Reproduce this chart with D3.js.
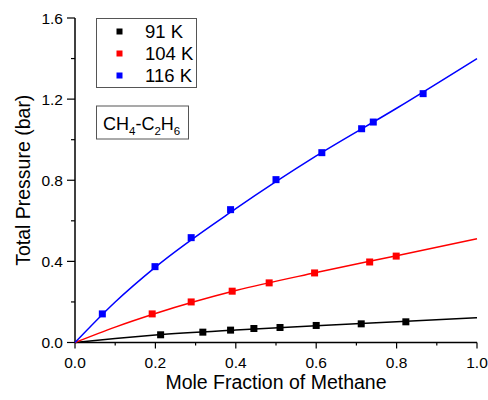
<!DOCTYPE html>
<html>
<head>
<meta charset="utf-8">
<title>Total Pressure vs Mole Fraction</title>
<script src="https://cdn.jsdelivr.net/npm/d3@7/dist/d3.min.js"></script>
<style>
    body { margin: 0; background: white; }
    svg { font-family: "Liberation Sans", Arial, sans-serif; }
</style>
</head>
<body>
<div id="chart"></div>
<script>
    // measured points
    var x91  = [0.213, 0.318, 0.387, 0.445, 0.51, 0.6, 0.712, 0.823];
    var p91  = [0.038, 0.051, 0.061, 0.069, 0.074, 0.084, 0.092, 0.102];
    var x104 = [0.192, 0.289, 0.391, 0.483, 0.596, 0.733, 0.799];
    var p104 = [0.141, 0.2, 0.253, 0.294, 0.343, 0.397, 0.426];
    var x116 = [0.068, 0.199, 0.289, 0.387, 0.5, 0.614, 0.713, 0.742, 0.866];
    var p116 = [0.141, 0.374, 0.517, 0.655, 0.803, 0.936, 1.054, 1.087, 1.227];

    // fitted curves
    var fitX   = [0, 0.1, 0.2, 0.4, 0.6, 0.8, 1.0];
    var fit91  = [0, 0.02, 0.037, 0.062, 0.083, 0.102, 0.122];
    var fit104 = [0, 0.076, 0.143, 0.256, 0.345, 0.428, 0.512];
    var fit116 = [0, 0.2, 0.372, 0.66, 0.92, 1.155, 1.40];

    var labels = ["91 K", "104 K", "116 K"];
    var colors = ["#000000", "#ff0000", "#0000ff"];
    var xTicks = [0, 0.2, 0.4, 0.6, 0.8, 1.0];
    var yTicks = [0, 0.4, 0.8, 1.2, 1.6];

    var width = 488, height = 400;
    var svg = d3.select("#chart").append("svg")
                .attr("width", width)
                .attr("height", height);

    var x = d3.scaleLinear().domain([0, 1]).range([75, 477]);
    var y = d3.scaleLinear().domain([0, 1.6]).range([342.5, 18]);

    var series = [
        {xs: x91,  ys: p91,  fit: fit91},
        {xs: x104, ys: p104, fit: fit104},
        {xs: x116, ys: p116, fit: fit116}
    ];

    // axes
    var xAxis = svg.append("g").attr("transform", "translate(0," + y(0) + ")");
    xAxis.append("line").attr("x1", x(0)).attr("x2", x(1))
         .attr("stroke", "black").attr("stroke-width", 1.5);
    d3.range(0, 1.001, 0.1).forEach(function(v, i) {
        var major = i % 2 == 0;
        xAxis.append("line")
             .attr("x1", x(v)).attr("x2", x(v))
             .attr("y1", 0).attr("y2", major ? 6 : 3)
             .attr("stroke", "black").attr("stroke-width", 1.2);
    });
    xTicks.forEach(function(v) {
        xAxis.append("text")
             .attr("x", x(v)).attr("y", 25)
             .attr("text-anchor", "middle")
             .attr("font-size", 15.5)
             .text(d3.format(".1f")(v));
    });

    var yAxis = svg.append("g").attr("transform", "translate(" + x(0) + ",0)");
    yAxis.append("line").attr("y1", y(0)).attr("y2", y(1.6))
         .attr("stroke", "black").attr("stroke-width", 1.5);
    d3.range(0, 1.601, 0.2).forEach(function(v, i) {
        var major = i % 2 == 0;
        yAxis.append("line")
             .attr("x1", 0).attr("x2", major ? -8 : -4)
             .attr("y1", y(v)).attr("y2", y(v))
             .attr("stroke", "black").attr("stroke-width", 1.2);
    });
    yTicks.forEach(function(v) {
        yAxis.append("text")
             .attr("x", -12).attr("y", y(v))
             .attr("dy", "0.36em")
             .attr("text-anchor", "end")
             .attr("font-size", 15.5)
             .text(d3.format(".1f")(v));
    });

    // axis titles
    svg.append("text")
       .attr("x", (x(0) + x(1)) / 2).attr("y", 389)
       .attr("text-anchor", "middle")
       .attr("font-size", 19.5)
       .text("Mole Fraction of Methane");
    svg.append("text")
       .attr("transform", "translate(30," + ((y(0) + y(1.6)) / 2) + ") rotate(-90)")
       .attr("text-anchor", "middle")
       .attr("font-size", 19.5)
       .text("Total Pressure (bar)");

    // fit curves
    var line = d3.line()
                 .x(function(d) { return x(d[0]); })
                 .y(function(d) { return y(d[1]); })
                 .curve(d3.curveMonotoneX);
    series.forEach(function(s, i) {
        svg.append("path")
           .datum(fitX.map(function(v, j) { return [v, s.fit[j]]; }))
           .attr("d", line)
           .attr("fill", "none")
           .attr("stroke", colors[i])
           .attr("stroke-width", 1.5);
    });

    // markers
    var ms = 7;
    series.forEach(function(s, i) {
        svg.append("g").selectAll("rect")
           .data(s.xs.map(function(v, j) { return [v, s.ys[j]]; }))
           .enter().append("rect")
           .attr("x", function(d) { return x(d[0]) - ms / 2; })
           .attr("y", function(d) { return y(d[1]) - ms / 2; })
           .attr("width", ms).attr("height", ms)
           .attr("fill", colors[i]);
    });

    // legend
    var legend = svg.append("g");
    legend.append("rect")
          .attr("x", 96.5).attr("y", 18.5).attr("width", 100).attr("height", 69)
          .attr("fill", "white").attr("stroke", "#555").attr("stroke-width", 1);
    labels.forEach(function(lab, i) {
        var cy = 31.5 + i * 22;
        legend.append("rect")
              .attr("x", 116.5).attr("y", cy - 3)
              .attr("width", 6).attr("height", 6)
              .attr("fill", colors[i]);
        legend.append("text")
              .attr("x", 145).attr("y", cy)
              .attr("dy", "0.36em")
              .attr("font-size", 18.5)
              .text(lab);
    });

    // system label
    var box = svg.append("g");
    box.append("rect")
       .attr("x", 96.5).attr("y", 106).attr("width", 92).attr("height", 33)
       .attr("fill", "white").attr("stroke", "#555").attr("stroke-width", 1);
    var t = box.append("text")
               .attr("x", 103).attr("y", 129.5)
               .attr("font-size", 18);
    t.append("tspan").text("CH");
    t.append("tspan").attr("font-size", 11.5).attr("dy", 5).text("4");
    t.append("tspan").attr("dy", -5).text("-C");
    t.append("tspan").attr("font-size", 11.5).attr("dy", 5).text("2");
    t.append("tspan").attr("dy", -5).text("H");
    t.append("tspan").attr("font-size", 11.5).attr("dy", 5).text("6");
</script>
</body>
</html>
